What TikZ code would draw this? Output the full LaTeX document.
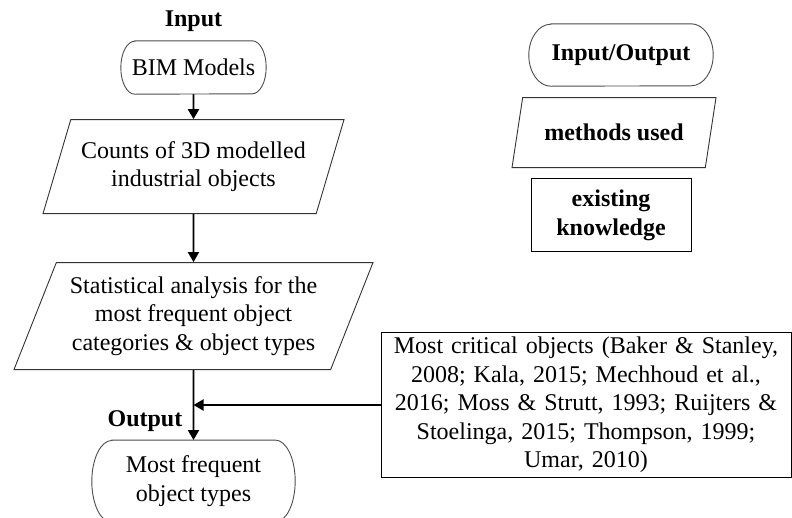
\documentclass[tikz,border=0pt]{standalone}
\usepackage{fontspec}
\setmainfont{Liberation Serif}
\usepackage{xcolor}
\usepackage{tikz}
\usetikzlibrary{arrows.meta,positioning,shapes.geometric}

\begin{document}
\begin{tikzpicture}[
  x=1pt, y=-1pt,
  txt/.style={font=\fontsize{24}{28.5}\selectfont, align=center, inner sep=2pt},
  term/.style={txt, rectangle},
  termline/.style={draw=black!70, line width=0.9pt},
  data/.style={txt, draw=black!80, line width=0.9pt, trapezium, trapezium left angle=63, trapezium right angle=117, trapezium stretches body},
  know/.style={txt, draw, line width=1pt},
  lbl/.style={font=\fontsize{24}{28.5}\selectfont\bfseries, inner sep=1pt},
  arr/.style={-{Triangle[length=10pt, width=11pt]}, line width=1.9pt},
]
\useasboundingbox (0,0) rectangle (792,517);

% main chain
\node[term, minimum width=145pt, minimum height=53pt] (bim) at (193.5,67.5) {BIM Models};
\node[lbl, above=8pt of bim] (inlbl) {Input};
\node[data, minimum width=301pt, minimum height=94pt, below=25pt of bim] (counts) {Counts of 3D modelled\\industrial objects};
\node[data, minimum width=359pt, minimum height=107pt, below=48pt of counts] (stat) {Statistical analysis for the\\most frequent object\\categories \& object types};
\node[term, minimum width=203pt, minimum height=82pt, below=70pt of stat] (out) {Most frequent\\object types};
\node[lbl, above left=7pt and 10pt of out.north] (outlbl) {Output};

\foreach \a/\b in {bim/counts,counts/stat,stat/out}
  \draw[arr] (\a) -- (\b);

% literature
\node[know, text width=400pt, minimum height=144pt, inner sep=5pt] (crit) at (586,405) {Most critical objects (Baker \& Stanley,\\2008; Kala, 2015; Mechhoud et al.,\\2016; Moss \& Strutt, 1993; Ruijters \&\\Stoelinga, 2015; Thompson, 1999;\\Umar, 2010)};
\draw[arr] (crit.west) -- (crit.west -| out.north);

% legend
\node[term, font=\fontsize{24}{28.5}\selectfont\bfseries, minimum width=184pt, minimum height=62pt] (legio) at (621,55) {Input/Output};
\node[data, font=\fontsize{24}{28.5}\selectfont\bfseries, minimum width=204pt, minimum height=70pt, below=11pt of legio, xshift=-7pt] (legmeth) {methods used};
\node[know, font=\fontsize{24}{28.5}\selectfont\bfseries, minimum width=160pt, minimum height=73pt, below=10pt of legmeth, xshift=-3pt] (legknow) {existing\\knowledge};

% terminator outlines with elliptic ends
\foreach \n/\r/\h in {bim/14/26.5, out/20/41, legio/22/31}
  \draw[termline] ([xshift=\r pt]\n.north west) -- ([xshift=-\r pt]\n.north east)
    arc[start angle=90, end angle=-90, x radius=\r pt, y radius=\h pt]
    -- ([xshift=\r pt]\n.south west)
    arc[start angle=270, end angle=90, x radius=\r pt, y radius=\h pt] -- cycle;
\end{tikzpicture}
\end{document}
